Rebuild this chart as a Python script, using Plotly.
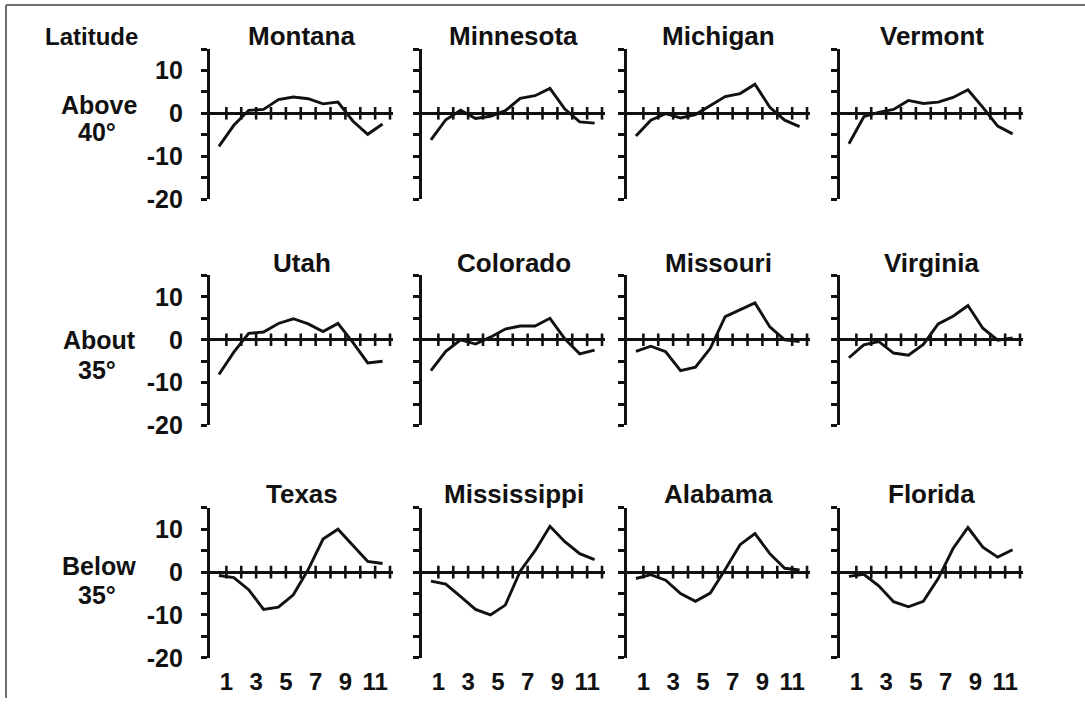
import plotly.graph_objects as go

# Monthly deviations (percent) for each state, months 1..12
MONTHS = [1, 2, 3, 4, 5, 6, 7, 8, 9, 10, 11, 12]
LABELLED_MONTHS = [1, 3, 5, 7, 9, 11]
Y_TICKS = [-20, -15, -10, -5, 0, 5, 10, 15]
Y_TICK_TEXT = ["-20", "", "-10", "", "0", "", "10", ""]

MONTANA = [-7.7, -2.8, 0.7, 0.9, 3.2, 3.8, 3.4, 2.2, 2.6, -1.8, -4.9, -2.5]
MINNESOTA = [-6.2, -1.5, 0.7, -1.2, -0.7, 0.6, 3.5, 4.1, 5.8, 1.0, -2.0, -2.3]
MICHIGAN = [-5.3, -1.6, -0.1, -1.1, -0.3, 1.9, 3.9, 4.6, 6.8, 1.4, -1.6, -3.1]
VERMONT = [-7.1, -0.8, 0.2, 0.9, 3.0, 2.3, 2.6, 3.7, 5.5, 1.4, -3.0, -4.8]

UTAH = [-8.1, -2.9, 1.5, 1.8, 3.8, 4.9, 3.7, 1.9, 3.8, -0.6, -5.4, -5.0]
COLORADO = [-7.2, -2.7, 0.0, -1.0, 0.6, 2.5, 3.2, 3.2, 5.0, 0.2, -3.3, -2.4]
MISSOURI = [-2.7, -1.5, -2.8, -7.2, -6.4, -2.0, 5.4, 7.0, 8.6, 3.0, 0.0, -0.4]
VIRGINIA = [-4.2, -1.2, -0.4, -3.1, -3.6, -1.1, 3.7, 5.5, 8.0, 2.7, -0.1, 0.4]

TEXAS = [-0.8, -1.3, -4.1, -8.7, -8.2, -5.3, 0.6, 7.7, 10.0, 6.2, 2.5, 2.0]
MISSISSIPPI = [-2.1, -2.8, -5.7, -8.7, -10.0, -7.7, 0.2, 5.0, 10.7, 7.1, 4.3, 2.9]
ALABAMA = [-1.5, -0.6, -1.9, -5.0, -6.8, -4.9, 0.6, 6.4, 9.0, 4.3, 0.9, 0.5]
FLORIDA = [-1.0, -0.5, -3.2, -6.9, -8.1, -6.8, -1.5, 5.5, 10.4, 5.8, 3.5, 5.2]

PANELS = [
    [("Montana", MONTANA), ("Minnesota", MINNESOTA), ("Michigan", MICHIGAN), ("Vermont", VERMONT)],
    [("Utah", UTAH), ("Colorado", COLORADO), ("Missouri", MISSOURI), ("Virginia", VIRGINIA)],
    [("Texas", TEXAS), ("Mississippi", MISSISSIPPI), ("Alabama", ALABAMA), ("Florida", FLORIDA)],
]
ROW_LABELS = [("Above", "40°"), ("About", "35°"), ("Below", "35°")]

# Page geometry (pixels)
W, H = 1085, 712
COL_LEFT = [210, 422, 627, 840]
PANEL_W = 183
ROW_TOP = [50, 281, 518]
PANEL_H = 153
TITLE_Y = [37, 268, 504]
ROW_LABEL_Y = [(107, 135), (347, 377), (577, 607)]

INK = "#111111"
FONT = "Liberation Sans"


def px_x(x):
    return x / W


def px_y(y):
    return 1 - y / H


def text_font(size):
    return dict(family=FONT, size=size, color=INK, weight="bold")


fig = go.Figure()
layout = {}
annotations = []

for r, row in enumerate(PANELS):
    for c, (name, values) in enumerate(row):
        idx = r * 4 + c + 1
        xa = "x" if idx == 1 else f"x{idx}"
        ya = "y" if idx == 1 else f"y{idx}"
        xkey = "xaxis" if idx == 1 else f"xaxis{idx}"
        ykey = "yaxis" if idx == 1 else f"yaxis{idx}"

        left = COL_LEFT[c]
        top = ROW_TOP[r]

        # monthly values drawn at mid-month between the month ticks
        fig.add_trace(go.Scatter(
            x=[m - 0.5 for m in MONTHS], y=values, xaxis=xa, yaxis=ya,
            mode="lines", line=dict(color=INK, width=2.9),
            hoverinfo="skip", showlegend=False,
        ))
        # month tick marks crossing the zero axis
        fig.add_trace(go.Scatter(
            x=MONTHS, y=[0] * len(MONTHS), xaxis=xa, yaxis=ya,
            mode="markers",
            marker=dict(symbol="line-ns", size=9, color=INK,
                        line=dict(width=2.6, color=INK)),
            hoverinfo="skip", showlegend=False,
        ))

        bottom_row = r == len(PANELS) - 1
        layout[xkey] = dict(
            domain=[px_x(left), px_x(left + PANEL_W)],
            anchor=ya, range=[-0.1, 12.2],
            showline=False, showgrid=False, zeroline=False,
            ticks="", tickvals=LABELLED_MONTHS,
            ticktext=[str(m) for m in LABELLED_MONTHS],
            showticklabels=bottom_row, tickangle=0, ticklabelstandoff=7,
            tickfont=text_font(24),
            fixedrange=True,
        )
        layout[ykey] = dict(
            domain=[px_y(top + PANEL_H), px_y(top)],
            anchor=xa, range=[-20, 15],
            showline=True, linecolor=INK, linewidth=3.2,
            showgrid=False,
            zeroline=True, zerolinecolor=INK, zerolinewidth=2.8,
            ticks="outside", ticklen=6, tickwidth=2.6, tickcolor=INK,
            tickvals=Y_TICKS, ticktext=Y_TICK_TEXT,
            showticklabels=(c == 0), ticklabelstandoff=13,
            tickfont=text_font(25),
            fixedrange=True,
        )

        annotations.append(dict(
            text=name, xref="paper", yref="paper",
            x=px_x(left + PANEL_W / 2), y=px_y(TITLE_Y[r]),
            xanchor="center", yanchor="middle", showarrow=False,
            font=text_font(26),
        ))

    first, second = ROW_LABELS[r]
    y1, y2 = ROW_LABEL_Y[r]
    annotations.append(dict(
        text=first, xref="paper", yref="paper", x=px_x(99), y=px_y(y1),
        xanchor="center", yanchor="middle", showarrow=False,
        font=text_font(25),
    ))
    annotations.append(dict(
        text=second, xref="paper", yref="paper", x=px_x(97), y=px_y(y2),
        xanchor="center", yanchor="middle", showarrow=False,
        font=text_font(25),
    ))

annotations.append(dict(
    text="Latitude", xref="paper", yref="paper", x=px_x(91), y=px_y(TITLE_Y[0]),
    xanchor="center", yanchor="middle", showarrow=False,
    font=text_font(24),
))

frame = dict(type="line", xref="paper", yref="paper",
             line=dict(color="#707070", width=2))
shapes = [
    dict(frame, x0=px_x(6), x1=1, y0=px_y(5), y1=px_y(5)),
    dict(frame, x0=px_x(6), x1=px_x(6), y0=px_y(5), y1=0),
]

fig.update_layout(
    width=W, height=H,
    margin=dict(l=0, r=0, t=0, b=0),
    paper_bgcolor="white", plot_bgcolor="white",
    showlegend=False,
    annotations=annotations,
    shapes=shapes,
    font=dict(family=FONT, color=INK),
    **layout,
)

fig.write_html("out.html", config={"displayModeBar": False})
